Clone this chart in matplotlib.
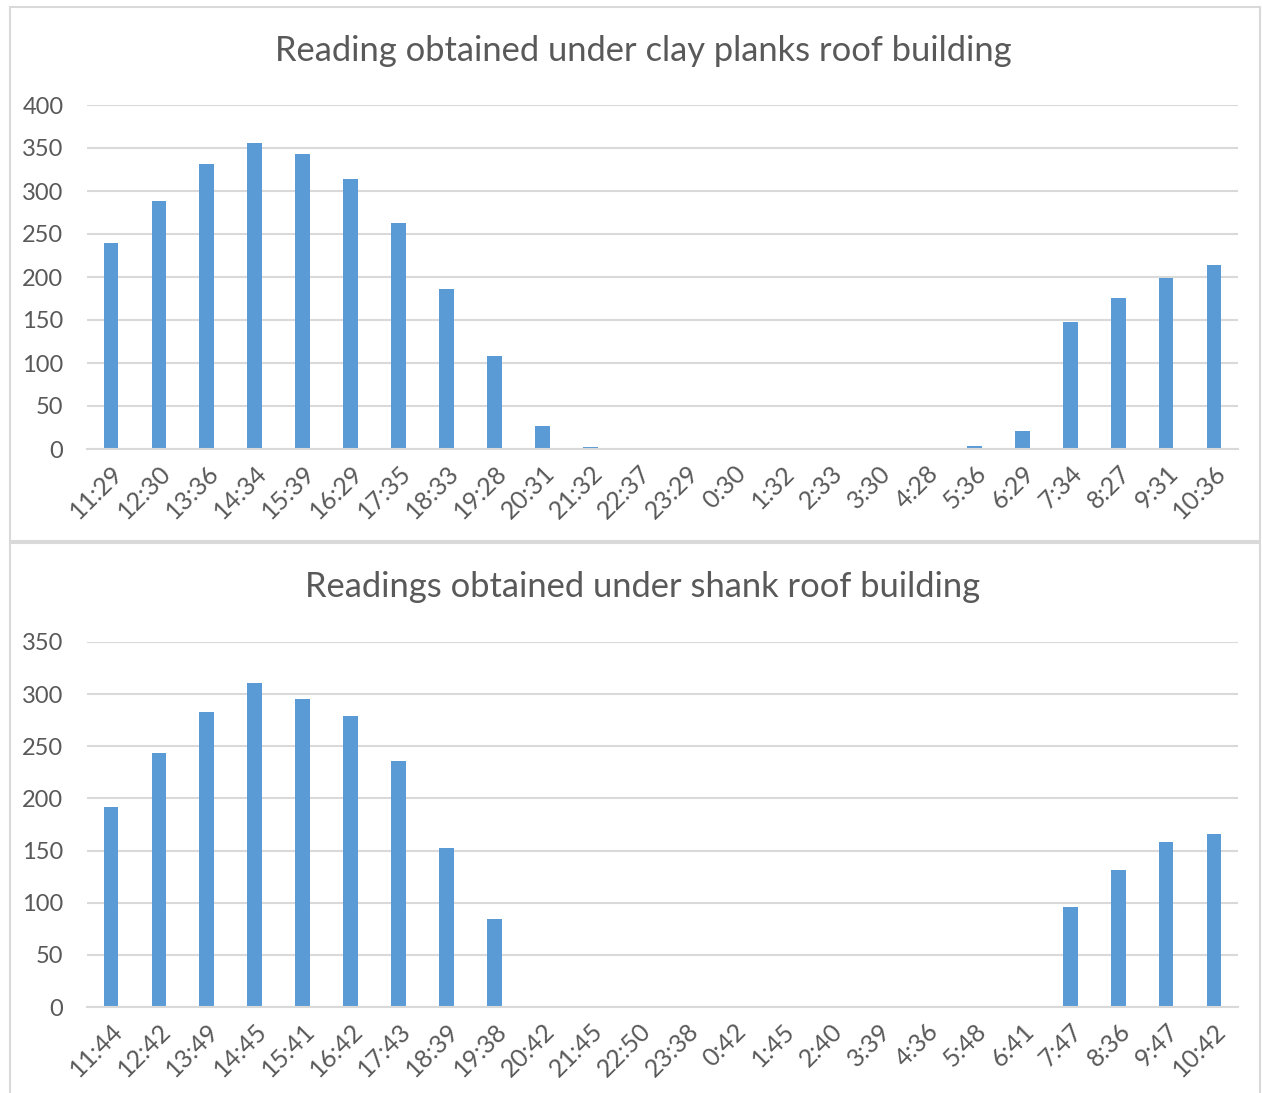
import matplotlib
matplotlib.use("Agg")
import matplotlib.pyplot as plt
import numpy as np
from matplotlib.patches import Rectangle

# Datos del gráfico superior (techo de tablones de arcilla)
horas_arcilla = ["11:29", "12:30", "13:36", "14:34", "15:39", "16:29", "17:35", "18:33",
                 "19:28", "20:31", "21:32", "22:37", "23:29", "0:30", "1:32", "2:33",
                 "3:30", "4:28", "5:36", "6:29", "7:34", "8:27", "9:31", "10:36"]
lecturas_arcilla = [240, 288, 331, 356, 343, 314, 263, 186, 108, 27, 2, 0, 0, 0, 0, 0,
                    0, 0, 3, 21, 148, 176, 199, 214]

# Datos del gráfico inferior (techo de caña)
horas_cana = ["11:44", "12:42", "13:49", "14:45", "15:41", "16:42", "17:43", "18:39",
              "19:38", "20:42", "21:45", "22:50", "23:38", "0:42", "1:45", "2:40",
              "3:39", "4:36", "5:48", "6:41", "7:47", "8:36", "9:47", "10:42"]
lecturas_cana = [192, 244, 283, 311, 295, 279, 236, 152, 84, 0, 0, 0, 0, 0, 0, 0,
                 0, 0, 0, 0, 96, 131, 158, 166]

plt.rcParams["font.family"] = ["Lato", "DejaVu Sans"]
gris = "#595959"
linea = "#d9d9d9"
azul = "#5b9bd5"

fig = plt.figure(figsize=(12.62, 10.93), dpi=100)

# Marcos de cada panel
fig.patches.append(Rectangle((10 / 1262, 1 - 541 / 1093), 1250 / 1262, 534 / 1093,
                             transform=fig.transFigure, fill=False, edgecolor=linea, linewidth=1.5))
fig.patches.append(Rectangle((10 / 1262, -0.01), 1250 / 1262, 1 - 543 / 1093 + 0.01,
                             transform=fig.transFigure, fill=False, edgecolor=linea, linewidth=1.5))


def dibujar(pos, horas, lecturas, titulo, ymax, y_titulo):
    ax = fig.add_axes(pos)
    x = np.arange(len(horas))
    ax.bar(x, lecturas, width=0.31, color=azul, zorder=3)
    ax.set_xlim(-0.5, len(horas) - 0.5)
    ax.set_ylim(0, ymax)
    ax.set_yticks(np.arange(0, ymax + 1, 50))
    ax.yaxis.grid(True, color=linea, linewidth=1.5, zorder=0)
    ax.set_xticks(x)
    ax.set_xticklabels(horas, rotation=45, ha="right", rotation_mode="anchor")
    ax.tick_params(axis="both", length=0, labelsize=17, labelcolor=gris)
    ax.tick_params(axis="x", pad=9, labelsize=18)
    ax.tick_params(axis="y", pad=17)
    for s in ["top", "right", "left"]:
        ax.spines[s].set_visible(False)
    ax.spines["bottom"].set_color(linea)
    ax.spines["bottom"].set_linewidth(1.5)
    ax.spines["bottom"].set_zorder(4)
    fig.text(0.5 + 12 / 1262, y_titulo, titulo, ha="center", va="center",
             fontsize=24.8, color=gris)
    return ax


dibujar([87 / 1262, 1 - 449 / 1093, 1151 / 1262, 344 / 1093], horas_arcilla, lecturas_arcilla,
        "Reading obtained under clay planks roof building", 400, 1 - 51 / 1093)
dibujar([87 / 1262, 1 - 1007 / 1093, 1151 / 1262, 365 / 1093], horas_cana, lecturas_cana,
        "Readings obtained under shank roof building", 350, 1 - 587 / 1093)

fig.savefig("out.png", dpi=100)
